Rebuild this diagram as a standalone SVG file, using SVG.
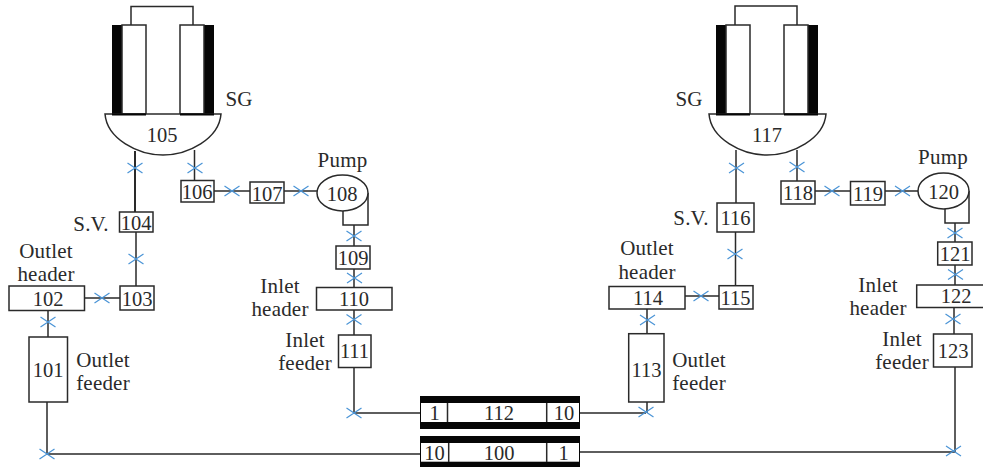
<svg xmlns="http://www.w3.org/2000/svg" xmlns:xlink="http://www.w3.org/1999/xlink" width="983" height="467" viewBox="0 0 983 467">
<style>
text{font-family:"Liberation Serif","Times New Roman",serif;fill:#2a2a2a;text-anchor:middle}
.n{font-size:20.5px}
.l{font-size:21px;letter-spacing:.2px}
.b{fill:#fff;stroke:#2a2a2a;stroke-width:1.5}
.p{fill:none;stroke:#2a2a2a;stroke-width:1.5}
.k{fill:#060606;stroke:none}
.x{fill:none;stroke:#4a94d6;stroke-width:1.2}
</style>
<defs><path id="x" class="x" d="M-7.500-5 7.500 5M-7.500 5 7.500-5"/></defs>
<rect width="983" height="467" fill="#fff"/>
<g id="connectors">
<path class="p" d="M135 151V212" style="stroke-width:2"/>
<path class="p" d="M194.500 150V180M214 191H250M284 191H317M343 211V225H368V193M354 225V246M354 287V269M354 310V335M354 367V413H421M136 232V286M120 298H84M48 310V337M47 402V454H421M580 413H646M647 402V413M647 309V334M685 296H719M735.500 232V286M736 150V203M797 150V181M815 191H851M885 191H918M945 209V223H969V191M955 223V242M955 265V285M954 307V334M955 367V452M580 452H955"/>
<g>
<use xlink:href="#x" href="#x" x="135" y="168"/><use xlink:href="#x" href="#x" x="195" y="168"/><use xlink:href="#x" href="#x" x="232" y="191"/><use xlink:href="#x" href="#x" x="301" y="191"/><use xlink:href="#x" href="#x" x="354" y="236"/><use xlink:href="#x" href="#x" x="354.500" y="278"/><use xlink:href="#x" href="#x" x="354" y="319.500"/><use xlink:href="#x" href="#x" x="354" y="413"/><use xlink:href="#x" href="#x" x="136" y="259"/><use xlink:href="#x" href="#x" x="102" y="298"/><use xlink:href="#x" href="#x" x="48" y="322"/><use xlink:href="#x" href="#x" x="47" y="454"/><use xlink:href="#x" href="#x" x="646" y="412"/><use xlink:href="#x" href="#x" x="647.500" y="320"/><use xlink:href="#x" href="#x" x="701" y="296"/><use xlink:href="#x" href="#x" x="735" y="254"/><use xlink:href="#x" href="#x" x="736.500" y="168"/><use xlink:href="#x" href="#x" x="797" y="167"/><use xlink:href="#x" href="#x" x="832" y="191"/><use xlink:href="#x" href="#x" x="902.500" y="191"/><use xlink:href="#x" href="#x" x="955" y="233"/><use xlink:href="#x" href="#x" x="955.500" y="274.500"/><use xlink:href="#x" href="#x" x="953" y="319"/><use xlink:href="#x" href="#x" x="953.500" y="451"/>
</g>
</g>
<g id="n105">
<path class="p" d="M131 25V6.500H193V25"/>
<rect class="k" x="112" y="25" width="10" height="89"/><rect class="k" x="204" y="25" width="10" height="89"/>
<rect class="b" x="122" y="25" width="24" height="89"/><rect class="b" x="180" y="25" width="24" height="89"/>
<path class="b" d="M105 114C107 139 138 155 163 155S219 139 221 114Z"/>
<path d="M112 114.500H146M180 114.500H214" stroke="#060606" stroke-width="2"/>
<text class="n" x="162" y="142">105</text><text class="l" x="239" y="106">SG</text>
</g>
<g id="n106"><rect class="b" x="181" y="180.500" width="33" height="21.500"/><text class="n" x="197" y="199">106</text></g>
<g id="n107"><rect class="b" x="250" y="182" width="34" height="21"/><text class="n" x="267" y="201">107</text></g>
<g id="n108"><ellipse class="b" cx="342.500" cy="193" rx="25.500" ry="18"/><text class="n" x="342" y="200.500">108</text><text class="l" x="342.500" y="167">Pump</text></g>
<g id="n109"><rect class="b" x="336" y="246" width="34" height="23"/><text class="n" x="353" y="265">109</text></g>
<g id="n110"><rect class="b" x="316.500" y="287.500" width="75.500" height="22.500"/><text class="n" x="354" y="306">110</text><text class="l" x="280" y="293">Inlet</text><text class="l" x="280" y="316">header</text></g>
<g id="n111"><rect class="b" x="338.500" y="335" width="32.500" height="32.500"/><text class="n" x="354.500" y="358">111</text><text class="l" x="305" y="347">Inlet</text><text class="l" x="305" y="370">feeder</text></g>
<g id="n104"><rect class="b" x="119.500" y="212" width="33.500" height="20"/><text class="n" x="136" y="230">104</text><text class="l" x="91" y="231">S.V.</text></g>
<g id="n103"><rect class="b" x="120" y="286" width="34" height="24"/><text class="n" x="137" y="305.500">103</text></g>
<g id="n102"><rect class="b" x="9" y="286" width="75.500" height="24.500"/><text class="n" x="48" y="305.500">102</text><text class="l" x="46" y="258">Outlet</text><text class="l" x="46" y="281">header</text></g>
<g id="n101"><rect class="b" x="29" y="337" width="38.500" height="65"/><text class="n" x="48" y="377">101</text><text class="l" x="103" y="367">Outlet</text><text class="l" x="103" y="390">feeder</text></g>
<g id="n112"><rect class="k" x="420" y="396" width="160" height="33"/><rect class="b" x="421" y="403" width="158" height="19" style="stroke:none"/><path class="p" d="M447.500 403V422M546.700 403V422"/><text class="n" x="434.500" y="420">1</text><text class="n" x="499" y="420">112</text><text class="n" x="564" y="420">10</text></g>
<g id="n100"><rect class="k" x="420" y="436" width="160" height="31"/><rect class="b" x="421" y="443" width="158" height="18.700" style="stroke:none"/><path class="p" d="M448.700 443V462M546.700 443V462"/><text class="n" x="434.500" y="460">10</text><text class="n" x="499" y="460">100</text><text class="n" x="563.500" y="460">1</text></g>
<g id="n113"><rect class="b" x="628.700" y="333.700" width="35.300" height="68.300"/><text class="n" x="646.500" y="377">113</text><text class="l" x="699" y="367">Outlet</text><text class="l" x="699" y="390">feeder</text></g>
<g id="n114"><rect class="b" x="609" y="286.500" width="76" height="22.500"/><text class="n" x="648" y="304.500">114</text><text class="l" x="647" y="255">Outlet</text><text class="l" x="647" y="279">header</text></g>
<g id="n115"><rect class="b" x="719" y="285.700" width="34" height="23.300"/><text class="n" x="735.500" y="304.500">115</text></g>
<g id="n116"><rect class="b" x="717" y="203" width="37" height="29"/><text class="n" x="735.500" y="224.500">116</text><text class="l" x="691" y="225">S.V.</text></g>
<g id="n117">
<path class="p" d="M735 25V6H797V25"/>
<rect class="k" x="716" y="25" width="10" height="89"/><rect class="k" x="808" y="25" width="10" height="89"/>
<rect class="b" x="726" y="25" width="24" height="89"/><rect class="b" x="784" y="25" width="24" height="89"/>
<path class="b" d="M709 114C711 139 742 155 767 155S824 139 826 114Z"/>
<path d="M716 114.500H750M784 114.500H818" stroke="#060606" stroke-width="2"/>
<text class="n" x="767" y="142">117</text><text class="l" x="689" y="106">SG</text>
</g>
<g id="n118"><rect class="b" x="781" y="181" width="34" height="23"/><text class="n" x="798" y="199.500">118</text></g>
<g id="n119"><rect class="b" x="850.500" y="181.500" width="34.500" height="23.500"/><text class="n" x="868" y="200.500">119</text></g>
<g id="n120"><ellipse class="b" cx="943.500" cy="191" rx="25.500" ry="18"/><text class="n" x="943.500" y="199">120</text><text class="l" x="943" y="164">Pump</text></g>
<g id="n121"><rect class="b" x="937.700" y="242" width="34.300" height="23"/><text class="n" x="955" y="260.500">121</text></g>
<g id="n122"><rect class="b" x="916.700" y="285" width="70" height="22.500"/><text class="n" x="956" y="303">122</text><text class="l" x="878" y="292">Inlet</text><text class="l" x="878" y="315">header</text></g>
<g id="n123"><rect class="b" x="933.500" y="334" width="38.500" height="33"/><text class="n" x="953" y="358">123</text><text class="l" x="902" y="346">Inlet</text><text class="l" x="902" y="369">feeder</text></g>
</svg>
